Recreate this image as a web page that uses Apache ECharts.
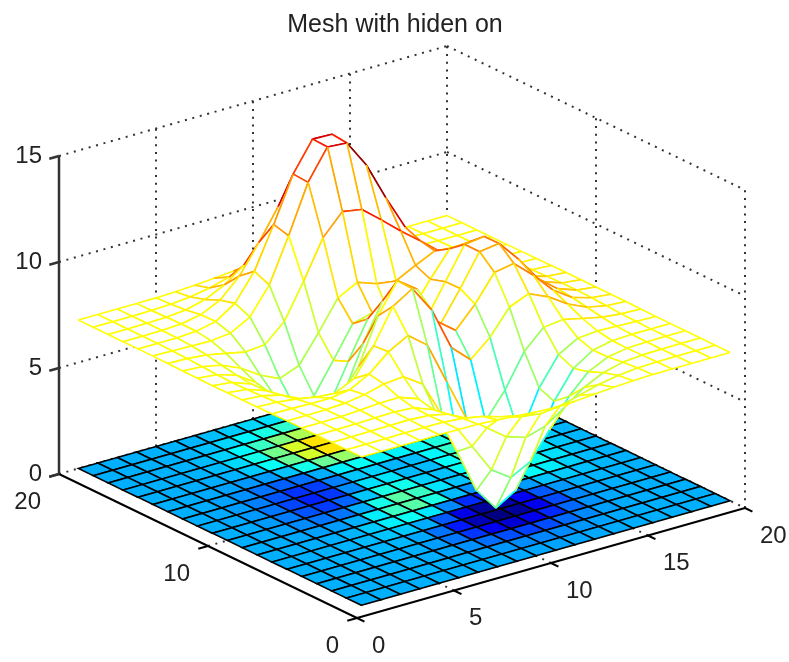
<!DOCTYPE html>
<html><head><meta charset="utf-8"><style>html,body{margin:0;background:#fff}#c{width:789px;height:662px;filter:blur(.5px)}</style>
<script src="https://cdn.jsdelivr.net/npm/echarts@6/dist/echarts.min.js"></script></head>
<body><div id="c"></div><script>
var chartTitle = 'Mesh with hiden on';
var xTicks = [0, 5, 10, 15, 20];
var yTicks = [0, 10, 20];
var zTicks = [0, 5, 10, 15];
var meshOffset = 7;
var colorLimits = [-6.36, 15];
var zRow01 = [0,0,0,0,.01,0,-.02,-.07,-.14,-.22,-.25,-.23,-.16,-.09,-.04,-.01,0,0,0,0];
var zRow02 = [0,0,0,.01,.01,0,-.08,-.25,-.52,-.78,-.89,-.79,-.55,-.30,-.13,-.04,-.01,0,0,0];
var zRow03 = [0,0,.01,.02,.03,-.02,-.22,-.68,-1.38,-2.06,-2.35,-2.08,-1.45,-.79,-.34,-.11,-.03,-.01,0,0];
var zRow04 = [0,0,.01,.04,.06,0,-.35,-1.22,-2.59,-3.96,-4.58,-4.09,-2.84,-1.54,-.64,-.20,-.05,-.01,0,0];
var zRow05 = [0,0,.02,.06,.13,.15,-.18,-1.26,-3.18,-5.26,-6.36,-5.80,-4.02,-2.11,-.82,-.22,-.03,.01,0,0];
var zRow06 = [0,0,.01,.06,.20,.44,.53,-.09,-1.83,-4.20,-5.81,-5.58,-3.83,-1.82,-.51,.01,.09,.05,.02,0];
var zRow07 = [-.01,-.02,-.05,-.05,.09,.57,1.36,1.87,1.16,-.83,-2.80,-3.21,-2.01,-.44,.44,.55,.34,.14,.04,.01];
var zRow08 = [-.02,-.06,-.17,-.34,-.42,.02,1.30,2.91,3.48,2.21,.19,-.65,.14,1.31,1.69,1.28,.68,.27,.08,.02];
var zRow09 = [-.03,-.10,-.32,-.75,-1.24,-1.22,-.01,2.12,3.52,2.87,1.10,.39,1.37,2.61,2.77,1.96,1.01,.39,.12,.03];
var zRow10 = [-.03,-.14,-.45,-1.09,-1.98,-2.47,-1.64,.48,2.22,2.03,.67,.38,1.77,3.25,3.38,2.38,1.21,.47,.14,.03];
var zRow11 = [-.04,-.15,-.48,-1.19,-2.24,-3.01,-2.54,-.71,1.03,1.13,.20,.23,1.75,3.25,3.37,2.36,1.20,.46,.14,.03];
var zRow12 = [-.03,-.12,-.40,-1.01,-1.93,-2.67,-2.42,-1.00,.47,.72,.14,.27,1.53,2.71,2.77,1.93,.98,.38,.11,.03];
var zRow13 = [-.02,-.08,-.27,-.67,-1.26,-1.68,-1.32,-.04,1.34,1.82,1.50,1.37,1.84,2.27,2.06,1.37,.68,.26,.08,.02];
var zRow14 = [-.01,-.04,-.13,-.31,-.51,-.42,.40,2.05,3.84,4.82,4.66,3.91,3.13,2.41,1.66,.95,.43,.16,.04,.01];
var zRow15 = [0,-.02,-.04,-.06,.04,.54,1.79,3.86,6.12,7.53,7.46,6.16,4.36,2.71,1.48,.69,.28,.09,.02,.01];
var zRow16 = [0,0,0,.05,.25,.85,2.10,4.05,6.17,7.56,7.53,6.19,4.24,2.44,1.20,.50,.17,.05,.01,0];
var zRow17 = [0,0,.01,.06,.23,.66,1.54,2.86,4.30,5.26,5.25,4.31,2.92,1.64,.77,.30,.10,.03,.01,0];
var zRow18 = [0,0,.01,.04,.12,.35,.79,1.46,2.18,2.66,2.66,2.18,1.47,.82,.37,.14,.04,.01,0,0];
var zRow19 = [0,0,0,.01,.05,.13,.30,.55,.83,1.01,1.01,.83,.56,.31,.14,.05,.02,0,0,0];
var zRow20 = [0,0,0,0,.01,.04,.09,.16,.24,.29,.29,.24,.16,.09,.04,.01,0,0,0,0];
var Z = [zRow01,zRow02,zRow03,zRow04,zRow05,zRow06,zRow07,zRow08,zRow09,zRow10,zRow11,zRow12,zRow13,zRow14,zRow15,zRow16,zRow17,zRow18,zRow19,zRow20];

// Orthographic view of the 3D box onto the page plane
var VIEW = {ox:357, oy:618, xx:19.4, xy:-5.5, yx:-14.9, yy:-7.2, zy:-21.2};
function project(x,y,z){return [VIEW.ox+x*VIEW.xx+y*VIEW.yx, VIEW.oy+x*VIEW.xy+y*VIEW.yy+z*VIEW.zy];}
function cl(v){return Math.round(255*Math.max(0,Math.min(1,v)));}
function jet(v){var t=(v-colorLimits[0])/(colorLimits[1]-colorLimits[0]);return 'rgb('+cl(Math.min(4*t-1.5,-4*t+4.5))+','+cl(Math.min(4*t-.5,-4*t+3.5))+','+cl(Math.min(4*t+.5,-4*t+2.5))+')';}

var N = Z.length, cells = [];
for (var j=N-2;j>=0;j--) for (var i=N-2;i>=0;i--) cells.push([i,j]);

var xMax = xTicks[xTicks.length-1], yMax = yTicks[yTicks.length-1], zTop = zTicks[zTicks.length-1];
var gridLines = [];
zTicks.forEach(function(z){gridLines.push([0,yMax,z,xMax,yMax,z]);gridLines.push([xMax,yMax,z,xMax,0,z]);});
xTicks.forEach(function(x){if(x>0){gridLines.push([x,yMax,0,x,yMax,zTop]);} if(x>0&&x<xMax){gridLines.push([x,0,0,x,yMax,0]);}});
yTicks.forEach(function(y){if(y<yMax){gridLines.push([xMax,y,0,xMax,y,zTop]);} if(y>0&&y<yMax){gridLines.push([0,y,0,xMax,y,0]);}});

var axisLines = [[0,0,0,xMax,0,0],[0,yMax,0,0,0,0]];
var tickDir = .5;
xTicks.forEach(function(x){axisLines.push([x,0,0,x,-tickDir,0]);});
yTicks.forEach(function(y){axisLines.push([0,y,0,-tickDir,y,0]);});
var zAxisLines = [[0,yMax,0,0,yMax,zTop]];
zTicks.forEach(function(z){zAxisLines.push([0,yMax,z,-tickDir,yMax,z]);});

var labels = [];
zTicks.forEach(function(z){labels.push({v:[0,yMax,z],t:String(z),a:'right',dx:-17,dy:0});});
xTicks.forEach(function(x){labels.push({v:[x,0,0],t:String(x),a:'left',dx:15,dy:28});});
yTicks.forEach(function(y){labels.push({v:[0,y,0],t:String(y),a:'right',dx:-18,dy:28});});

function P(api,x,y,z){return api.coord(project(x,y,z));}
function lineEl(a,b,stroke,w,dash){return {type:'line',shape:{x1:a[0],y1:a[1],x2:b[0],y2:b[1]},style:{stroke:stroke,lineWidth:w,lineDash:dash||null,fill:null},silent:true};}
function segSeries(data,stroke,w,dash){return {type:'custom',coordinateSystem:'cartesian2d',clip:false,silent:true,data:data,
  renderItem:function(p,api){var d=data[p.dataIndex];return lineEl(P(api,d[0],d[1],d[2]),P(api,d[3],d[4],d[5]),stroke,w,dash);}};}
function prev(k){return Math.max(k-1,0);}

var option = {
  animation:false, backgroundColor:'#fff',
  title:{text:chartTitle,left:390,textAlign:'center',top:8,textStyle:{fontFamily:'Liberation Sans',fontSize:25,fontWeight:'normal',color:'#222'}},
  tooltip:{show:false},
  grid:{left:0,right:0,top:0,bottom:0},
  xAxis:{type:'value',min:0,max:789,show:false},
  yAxis:{type:'value',min:0,max:662,inverse:true,show:false},
  series:[
    segSeries(gridLines,'#333',2,[2,5.7]),
    {type:'custom',coordinateSystem:'cartesian2d',clip:false,silent:true,data:cells,progressive:0,
     renderItem:function(p,api){var c=cells[p.dataIndex],i=c[0],j=c[1];
       var a=[P(api,i+1,j+1,0),P(api,i+2,j+1,0),P(api,i+2,j+2,0),P(api,i+1,j+2,0)];
       return {type:'polygon',shape:{points:a},style:{fill:jet(Z[j][i]),stroke:'#000',lineWidth:1.6},silent:true};}},
    segSeries(axisLines,'#000',2),
    segSeries(zAxisLines,'#333',2.5),
    {type:'custom',coordinateSystem:'cartesian2d',clip:false,silent:true,data:cells,progressive:0,
     renderItem:function(p,api){var c=cells[p.dataIndex],i=c[0],j=c[1],o=meshOffset;
       var a=P(api,i+1,j+1,Z[j][i]+o),b=P(api,i+2,j+1,Z[j][i+1]+o),d=P(api,i+2,j+2,Z[j+1][i+1]+o),e=P(api,i+1,j+2,Z[j+1][i]+o);
       var w=1.6;
       return {type:'group',children:[
         {type:'polygon',shape:{points:[a,b,d,e]},style:{fill:'#fff',stroke:null},silent:true},
         lineEl(e,d,jet(Z[j+1][prev(i)]+o),w),
         lineEl(b,d,jet(Z[prev(j)][i+1]+o),w),
         lineEl(a,b,jet(Z[j][prev(i)]+o),w),
         lineEl(a,e,jet(Z[prev(j)][i]+o),w)
       ]};}},
    {type:'custom',coordinateSystem:'cartesian2d',clip:false,silent:true,data:labels,
     renderItem:function(p,api){var l=labels[p.dataIndex],q=P(api,l.v[0],l.v[1],l.v[2]);
       return {type:'text',x:q[0]+l.dx,y:q[1]+l.dy,silent:true,style:{text:l.t,fill:'#222',font:'24px "Liberation Sans"',textAlign:l.a,textVerticalAlign:'middle'}};}}
  ]
};
var chart = echarts.init(document.getElementById('c'));
chart.setOption(option);
</script></body></html>
